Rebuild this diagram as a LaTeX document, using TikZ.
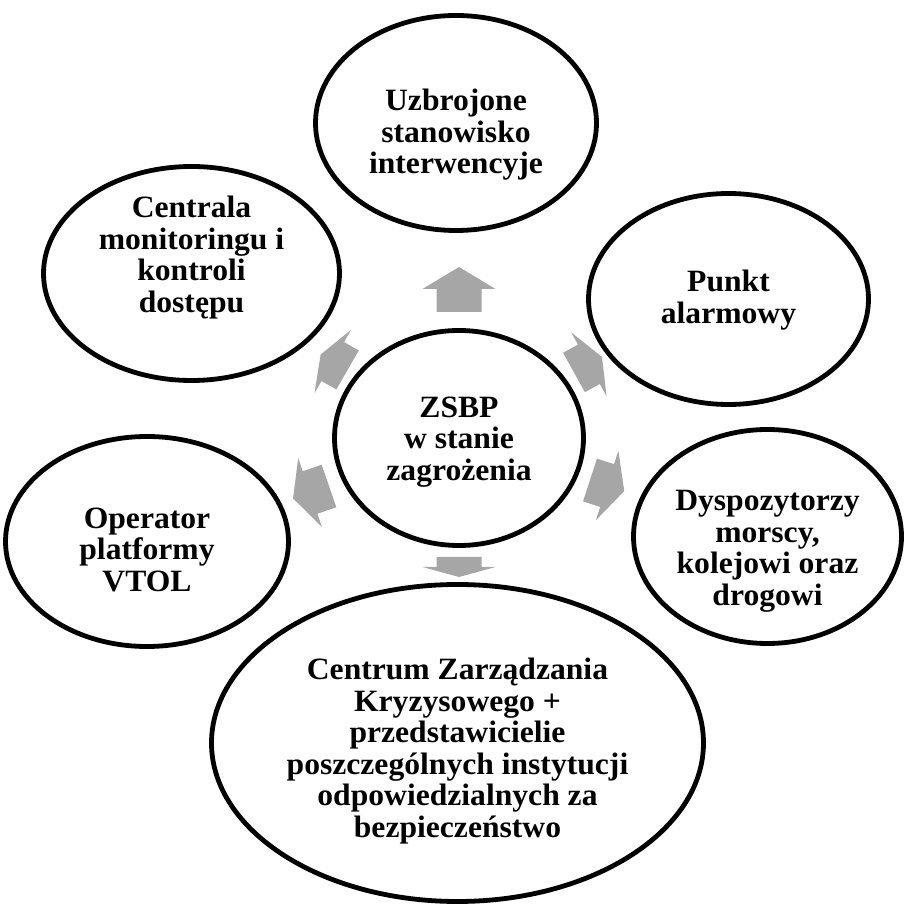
\documentclass[tikz,border=0pt]{standalone}
\usepackage{fontspec}
\setmainfont{Liberation Serif}[FakeStretch=1.02]
\usetikzlibrary{shapes.geometric}
\definecolor{arrowgray}{RGB}{166,166,166}
\newcommand\blockarr[5]{%
  \fill[arrowgray,shift={(#1,#2)},rotate=#3]
    (0,-22.5) -- (#4,-22.5) -- (#4,-36.5) -- ({#4+#5},0) -- (#4,36.5) -- (#4,22.5) -- (0,22.5) -- cycle;}
\begin{document}
\begin{tikzpicture}[x=1pt,y=1pt,
  bubble/.style={ellipse,draw=black,line width=4.8pt,fill=white,inner sep=0pt},
  btext/.style={inner sep=0pt,align=center,font=\bfseries\fontsize{31}{31.5}\selectfont}]
\useasboundingbox (0,0) rectangle (905,908);
\node[bubble,minimum width=281,minimum height=215] (top) at (456,785) {};
\node[bubble,minimum width=296,minimum height=214] (cent) at (191.5,634.5) {};
\node[bubble,minimum width=280,minimum height=211] (punkt) at (728.5,609) {};
\node[bubble,minimum width=249,minimum height=215] (zsbp) at (459,470) {};
\node[bubble,minimum width=283,minimum height=210] (oper) at (147,366.5) {};
\node[bubble,minimum width=268,minimum height=214] (dysp) at (767.5,371.5) {};
\node[bubble,minimum width=492,minimum height=317] (czk) at (457.5,165) {};
\node[btext] (top-t) at ([yshift=-12]top.center) {Uzbrojone\\stanowisko\\interwencyje};
\node[btext] (cent-t) at ([yshift=16]cent.center) {Centrala\\monitoringu i\\kontroli\\dostępu};
\node[btext] (punkt-t) at ([yshift=-1]punkt.center) {Punkt\\alarmowy};
\node[btext] (zsbp-t) at ([yshift=-4]zsbp.center) {ZSBP\\w stanie\\zagrożenia};
\node[btext] (oper-t) at ([yshift=-8]oper.center) {Operator\\platformy\\VTOL};
\node[btext] (dysp-t) at ([yshift=-15]dysp.center) {Dyspozytorzy\\morscy,\\kolejowi oraz\\drogowi};
\node[btext] (czk-t) at ([yshift=-8]czk.center) {Centrum Zarządzania\\Kryzysowego +\\przedstawicielie\\poszczególnych instytucji\\odpowiedzialnych za\\bezpieczeństwo};
\blockarr{459}{596}{90}{23}{22}
\blockarr{574}{535.5}{29}{17}{15}
\blockarr{590}{428}{-18}{18}{18}
\blockarr{459}{351}{-90}{10}{10}
\blockarr{329}{422}{199}{20}{18}
\blockarr{347.5}{538}{150}{17}{14}
\end{tikzpicture}
\end{document}
